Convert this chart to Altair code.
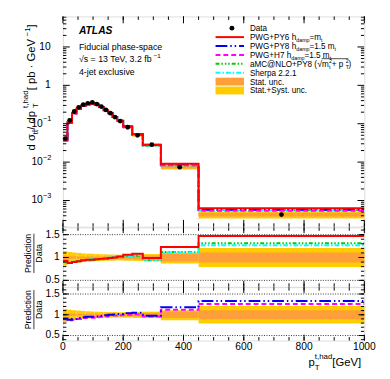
import altair as alt
import pandas as pd

FONT = "Liberation Sans"

# ---------------- data ----------------
bin_edges = [0, 15, 30, 45, 60, 75, 90, 105, 120, 135, 150, 165, 180, 200, 230, 265, 325, 450, 1000]
data_xsec = [0.041, 0.122, 0.208, 0.268, 0.314, 0.340, 0.360, 0.326, 0.279, 0.229, 0.188,
             0.149, 0.117, 0.081, 0.050, 0.0285, 0.0074, 0.00043]
ratio_pwg_py6 = [0.93, 0.88, 0.90, 0.92, 0.94, 0.95, 0.95, 0.96, 0.97, 0.98, 0.99, 1.00, 1.02, 1.06, 1.08, 0.99, 1.23, 1.47]
ratio_amc = [0.91, 0.89, 0.90, 0.92, 0.93, 0.94, 0.95, 0.96, 0.97, 0.98, 0.99, 1.00, 1.01, 1.03, 1.04, 0.94, 1.12, 1.31]
ratio_sherpa = [0.92, 0.90, 0.91, 0.93, 0.94, 0.95, 0.96, 0.97, 0.98, 0.99, 1.00, 1.01, 1.02, 1.03, 1.05, 0.95, 1.11, 1.27]
ratio_pwg_py8 = [0.91, 0.88, 0.90, 0.92, 0.94, 0.95, 0.95, 0.96, 0.97, 0.99, 1.00, 1.01, 1.02, 1.04, 1.05, 0.975, 1.18, 1.33]
ratio_pwg_h7 = [0.89, 0.87, 0.88, 0.90, 0.92, 0.93, 0.93, 0.94, 0.95, 0.96, 0.97, 0.98, 0.99, 1.00, 1.01, 0.96, 1.12, 1.26]
stat_unc = [0.04, 0.03, 0.025, 0.02, 0.02, 0.02, 0.02, 0.02, 0.02, 0.025, 0.025, 0.03, 0.03, 0.035, 0.04, 0.045, 0.08, 0.11]
tot_unc_up = [0.14, 0.12, 0.11, 0.10, 0.09, 0.085, 0.08, 0.075, 0.07, 0.07, 0.065, 0.065, 0.06, 0.065, 0.07, 0.075, 0.11, 0.21]
tot_unc_dn = [0.18, 0.14, 0.12, 0.11, 0.10, 0.09, 0.085, 0.08, 0.075, 0.07, 0.07, 0.065, 0.065, 0.07, 0.075, 0.08, 0.13, 0.21]

x_major = [0, 200, 400, 600, 800, 1000]
x_major_lbl = ["0", "200", "400", "600", "800", "1000"]
x_minor = [0, 50, 100, 150, 200, 250, 300, 350, 400, 450, 500, 550, 600, 650, 700, 750, 800, 850, 900, 950, 1000]
y_major_neg = [0.001, 0.01, 0.1]
y_major_neg_exp = ["\u22123", "\u22122", "\u22121"]
y_major_pos = [1, 10]
y_major_pos_lbl = ["1", "10"]
y_minor = [m * 10.0 ** k for k in range(-4, 2) for m in range(2, 10)]
r_major = [0.5, 1.0, 1.5]
r_major_lbl = ["0.5", "1", "1.5"]
r_minor = [0.4, 0.5, 0.6, 0.7, 0.8, 0.9, 1.0, 1.1, 1.2, 1.3, 1.4, 1.5, 1.6]

# ---------------- geometry / style ----------------
W = 307.3
HM, H1, H2 = 214.4, 60.6, 54.4
YMAIN = [2.07e-4, 62.4]
R1DOM = [0.36, 1.66]
R2DOM = [0.38, 1.665]
YELLOW = "#FFCC00"
ORANGE = "#FF9F3A"

one = pd.DataFrame({"k": [0]})

CW = {" ": .278, "!": .278, "(": .333, ")": .333, "+": .584, ",": .278, "-": .333, ".": .278,
      "/": .278, ":": .278, "=": .584, "@": 1.015, "[": .278, "]": .278, "A": .667, "B": .667,
      "C": .722, "D": .722, "E": .667, "F": .611, "G": .778, "H": .722, "I": .278, "L": .556,
      "M": .833, "N": .722, "O": .778, "P": .667, "S": .667, "T": .611, "V": .667, "W": .944,
      "Y": .667, "a": .556, "b": .556, "c": .5, "d": .556, "e": .556, "f": .278, "g": .556,
      "h": .556, "i": .222, "j": .222, "k": .5, "l": .222, "m": .833, "n": .556, "o": .556,
      "p": .556, "r": .333, "s": .5, "t": .278, "u": .556, "v": .5, "w": .722, "x": .5,
      "y": .5, "z": .5, "\u03c3": .6, "\u221a": .55, "\u00b7": .278, "\u2212": .584, "\u0304": 0}


def tw(s, fs):
    return sum(CW.get(c, .556) for c in s) * fs


def txt(text, x, y, fs, angle=0, align="left", baseline="alphabetic", color="black",
        weight="normal", style="normal"):
    kw = dict(text=text, fontSize=fs, align=align, baseline=baseline, font=FONT,
              color=color, fontWeight=weight, fontStyle=style)
    if angle:
        kw["angle"] = angle
    return alt.Chart(one).mark_text(**kw).encode(x=alt.value(x), y=alt.value(y))


def rich(pieces, x0, y0, fs, angle=0, align="left"):
    starts, cur = [], 0.0
    for t, sc, sh, adv in pieces:
        starts.append(cur)
        if adv:
            cur += tw(t, fs * sc)
    off = {"left": 0.0, "center": -cur / 2, "right": -cur}[align]
    layers, xs = [], []
    for (t, sc, sh, adv), s in zip(pieces, starts):
        along, perp = s + off, sh * fs
        if angle == 0:
            x, y = x0 + along, y0 + perp
        else:
            x, y = x0 + perp, y0 - along
        xs.append(x0 + along)
        layers.append(txt(t, x, y, fs * sc, angle=angle))
    return layers, xs, x0 + cur + off


XS = alt.Scale(domain=[0, 1000], nice=False, zero=False)


def xenc(field):
    return alt.X(f"{field}:Q", scale=XS, axis=None, title=None)


def tick_layers(H, yscale, ymaj, ymin, maj=7, mn=3.5):
    def yenc():
        return alt.Y("v:Q", scale=yscale, axis=None, title=None)
    L = []
    dxmaj = pd.DataFrame({"v": x_major})
    dxmin = pd.DataFrame({"v": x_minor})
    for d, ln in ((dxmaj, maj), (dxmin, mn)):
        L.append(alt.Chart(d).mark_rule(color="black", strokeWidth=1).encode(
            x=xenc("v"), y=alt.value(H - ln), y2=alt.value(H)))
        L.append(alt.Chart(d).mark_rule(color="black", strokeWidth=1).encode(
            x=xenc("v"), y=alt.value(0), y2=alt.value(ln)))
    dymaj = pd.DataFrame({"v": ymaj})
    dymin = pd.DataFrame({"v": ymin})
    for d, ln in ((dymaj, maj), (dymin, mn)):
        L.append(alt.Chart(d).mark_rule(color="black", strokeWidth=1, clip=True).encode(
            y=yenc(), x=alt.value(0), x2=alt.value(ln)))
        L.append(alt.Chart(d).mark_rule(color="black", strokeWidth=1, clip=True).encode(
            y=yenc(), x=alt.value(W - ln), x2=alt.value(W)))
    return L


lo = bin_edges[:-1]
hi = bin_edges[1:]
centers = [(a + b) / 2 for a, b in zip(lo, hi)]

STYLES = {
    "amc": dict(color="#00CC00", strokeDash=[4, 2, 1.5, 2, 1.5, 2, 1.5, 2]),
    "sherpa": dict(color="#00FFFF", strokeDash=[5, 2, 1.5, 2]),
    "py8": dict(color="#0000FF", strokeDash=[12, 3, 1.5, 3, 1.5, 3]),
    "h7": dict(color="#FF00FF", strokeDash=[5, 3]),
    "py6": dict(color="#FF0000"),
}
RATIOS = {"amc": ratio_amc, "sherpa": ratio_sherpa, "py8": ratio_pwg_py8,
          "h7": ratio_pwg_h7, "py6": ratio_pwg_py6}


def step_layer(vals, key, yscale):
    d = pd.DataFrame({"x": bin_edges, "y": list(vals) + [vals[-1]]})
    return alt.Chart(d).mark_line(interpolate="step-after", strokeWidth=2, clip=True,
                                  **STYLES[key]).encode(
        x=xenc("x"), y=alt.Y("y:Q", scale=yscale, axis=None, title=None))


# ---------------- main panel ----------------
ysm = alt.Scale(type="log", domain=YMAIN, nice=False)
band_main = pd.DataFrame({
    "lo": lo, "hi": hi,
    "t0": [v * (1 - d) for v, d in zip(data_xsec, tot_unc_dn)],
    "t1": [v * (1 + u) for v, u in zip(data_xsec, tot_unc_up)],
    "s0": [v * (1 - s) for v, s in zip(data_xsec, stat_unc)],
    "s1": [v * (1 + s) for v, s in zip(data_xsec, stat_unc)],
})
main_layers = [
    alt.Chart(band_main).mark_rect(color=YELLOW).encode(
        x=xenc("lo"), x2="hi", y=alt.Y("t0:Q", scale=ysm, axis=None, title=None), y2="t1"),
    alt.Chart(band_main).mark_rect(color=ORANGE).encode(
        x=xenc("lo"), x2="hi", y=alt.Y("s0:Q", scale=ysm, axis=None, title=None), y2="s1"),
]
for key in ["amc", "sherpa", "py8", "h7", "py6"]:
    main_layers.append(step_layer([v * r for v, r in zip(data_xsec, RATIOS[key])], key, ysm))
pts = pd.DataFrame({"c": centers, "v": data_xsec})
main_layers.append(alt.Chart(pts).mark_circle(color="black", size=24, opacity=1).encode(
    x=xenc("c"), y=alt.Y("v:Q", scale=ysm, axis=None, title=None)))
main_layers += tick_layers(HM, ysm, y_major_neg + y_major_pos, y_minor)

# log-axis labels as text through the y scale
dneg = pd.DataFrame({"v": y_major_neg, "e": y_major_neg_exp})
dpos = pd.DataFrame({"v": y_major_pos, "l": y_major_pos_lbl})
main_layers += [
    alt.Chart(dneg).mark_text(text="10", align="right", baseline="middle", fontSize=10.5, font=FONT,
                              color="black").encode(
        y=alt.Y("v:Q", scale=ysm, axis=None, title=None), x=alt.value(-20.5)),
    alt.Chart(dneg).mark_text(align="left", baseline="middle", fontSize=7.5, dy=-4.5, font=FONT,
                              color="black").encode(
        y=alt.Y("v:Q", scale=ysm, axis=None, title=None), x=alt.value(-20.3), text="e:N"),
    alt.Chart(dpos).mark_text(align="right", baseline="middle", fontSize=10.5, font=FONT,
                              color="black").encode(
        y=alt.Y("v:Q", scale=ysm, axis=None, title=None), x=alt.value(-12.5), text="l:N"),
]

# y title
ytitle = [("d \u03c3", 1, 0, True), ("tt\u0304", .7, .3, True), (" / dp", 1, 0, True),
          ("T", .7, .3, False), ("t,had", .7, -.6, True), (" [ pb \u00b7 GeV", 1, 0, True),
          ("\u22121", .7, -.45, True), (" ]", 1, 0, True)]
lay, _, _ = rich(ytitle, -28.5, 70.7, 11.5, angle=270, align="center")
main_layers += lay

# ATLAS annotation
main_layers.append(txt("ATLAS", 16.3, 17.7, 10.5, weight="bold", style="italic"))
main_layers.append(txt("Fiducial phase-space", 16.3, 34, 9))
lay, _, _ = rich([("\u221as = 13 TeV, 3.2 fb", 1, 0, True), ("\u22121", .7, -.45, True)], 16.3, 46.3, 9)
main_layers += lay
main_layers.append(txt("4-jet exclusive", 16.3, 59.5, 9))

# legend
LX0, LX1, LTX = 155.6, 184.6, 190.6
LFS = 8.3
leg_y = [12 + 9.07 * i for i in range(8)]
sub, sup = .28, -.45
legend_text = [
    [("Data", 1, 0, True)],
    [("PWG+PY6 h", 1, 0, True), ("damp", .65, sub, True), ("=m", 1, 0, True), ("t", .65, sub, True)],
    [("PWG+PY8 h", 1, 0, True), ("damp", .65, sub, True), ("=1.5 m", 1, 0, True), ("t", .65, sub, True)],
    [("PWG+H7 h", 1, 0, True), ("damp", .65, sub, True), ("=1.5 m", 1, 0, True), ("t", .65, sub, True)],
    [("aMC@NLO+PY8 (", 1, 0, True), ("\u221a", 1.1, 0, True), ("m", 1, 0, True), ("t", .65, .3, False),
     ("2", .65, -.45, True), (" + p", 1, 0, True), ("T", .65, .3, False), ("2", .65, -.45, True), (")", 1, 0, True)],
    [("Sherpa 2.2.1", 1, 0, True)],
    [("Stat. unc.", 1, 0, True)],
    [("Stat.+Syst. unc.", 1, 0, True)],
]
for i, pieces in enumerate(legend_text):
    lay, xs, xend = rich(pieces, LTX, leg_y[i] + 3.0, LFS)
    main_layers += lay
    if i == 4:
        main_layers.append(alt.Chart(one).mark_rule(color="black", strokeWidth=0.7).encode(
            x=alt.value(xs[2] - 0.5), x2=alt.value(xs[8] - 0.3),
            y=alt.value(leg_y[i] - 5.2)))
main_layers.append(alt.Chart(one).mark_circle(color="black", size=24, opacity=1).encode(
    x=alt.value(172.3), y=alt.value(leg_y[0])))
for i, key in zip([1, 2, 3, 4, 5], ["py6", "py8", "h7", "amc", "sherpa"]):
    main_layers.append(alt.Chart(one).mark_rule(strokeWidth=2, **STYLES[key]).encode(
        x=alt.value(LX0), x2=alt.value(LX1), y=alt.value(leg_y[i])))
for i, col in ((6, ORANGE), (7, YELLOW)):
    main_layers.append(alt.Chart(one).mark_rect(color=col).encode(
        x=alt.value(LX0), x2=alt.value(LX1), y=alt.value(leg_y[i] - 4), y2=alt.value(leg_y[i] + 4)))

# invisible anchor fixing the left extent
main_layers.append(alt.Chart(one).mark_rule(color="white", strokeWidth=0.5).encode(
    x=alt.value(-54.5), y=alt.value(100), y2=alt.value(110)))

main = alt.layer(*main_layers).properties(width=W, height=HM)


# ---------------- ratio panels ----------------
def ratio_panel(H, dom, keys, title_c, xlabels):
    ys = alt.Scale(domain=dom, nice=False, zero=False)

    def yenc(f):
        return alt.Y(f"{f}:Q", scale=ys, axis=None, title=None)

    bands = pd.DataFrame({
        "lo": lo, "hi": hi,
        "t0": [1 - d for d in tot_unc_dn], "t1": [1 + u for u in tot_unc_up],
        "s0": [1 - s for s in stat_unc], "s1": [1 + s for s in stat_unc],
    })
    L = [
        alt.Chart(bands).mark_rect(color=YELLOW).encode(x=xenc("lo"), x2="hi", y=yenc("t0"), y2="t1"),
        alt.Chart(bands).mark_rect(color=ORANGE).encode(x=xenc("lo"), x2="hi", y=yenc("s0"), y2="s1"),
    ]
    dl = pd.DataFrame({"v": [0.5, 1.5]})
    L.append(alt.Chart(dl).mark_rule(color="#333333", strokeWidth=1, strokeDash=[1, 1.5]).encode(
        y=yenc("v"), x=alt.value(0), x2=alt.value(W)))
    for key in keys:
        L.append(step_layer(RATIOS[key], key, ys))
    L += tick_layers(H, ys, r_major, r_minor, maj=6, mn=3.5)
    dlab = pd.DataFrame({"v": r_major, "l": r_major_lbl})
    L.append(alt.Chart(dlab).mark_text(align="right", baseline="middle", fontSize=10.5, font=FONT,
                                       color="black").encode(
        y=yenc("v"), x=alt.value(-3.2), text="l:N"))
    if xlabels:
        dxl = pd.DataFrame({"v": x_major, "l": x_major_lbl})
        L.append(alt.Chart(dxl).mark_text(align="center", baseline="top", fontSize=10.5, font=FONT,
                                          color="black").encode(
            x=xenc("v"), y=alt.value(H + 1.5), text="l:N"))
    L.append(txt("Prediction", -35.2, title_c, 9, angle=270, align="center", baseline="middle"))
    L.append(txt("Data", -24.8, title_c, 9, angle=270, align="center", baseline="middle"))
    L.append(alt.Chart(one).mark_rule(color="black", strokeWidth=0.8).encode(
        x=alt.value(-29.6), y=alt.value(title_c - 20), y2=alt.value(title_c + 20)))
    return L


r1_layers = ratio_panel(H1, R1DOM, ["amc", "sherpa", "py6"], 26.5, False)
r2_layers = ratio_panel(H2, R2DOM, ["h7", "py8"], 23.0, True)
lay, _, _ = rich([("p", 1, 0, True), ("T", .7, .32, False), ("t,had", .7, -.62, True), (" [GeV]", 1, 0, True)],
                 W, 80.5, 11.5, align="right")
r2_layers += lay

r1 = alt.layer(*r1_layers).properties(width=W, height=H1)
r2 = alt.layer(*r2_layers).properties(width=W, height=H2)

chart = alt.vconcat(main, r1, r2, spacing=0, bounds="flush").properties(
    padding={"left": 0, "top": 4, "right": 5, "bottom": 2}
).configure_view(stroke="black", strokeWidth=1).configure(font=FONT)

chart.save("out.html", embed_options={"renderer": "svg", "actions": False})
